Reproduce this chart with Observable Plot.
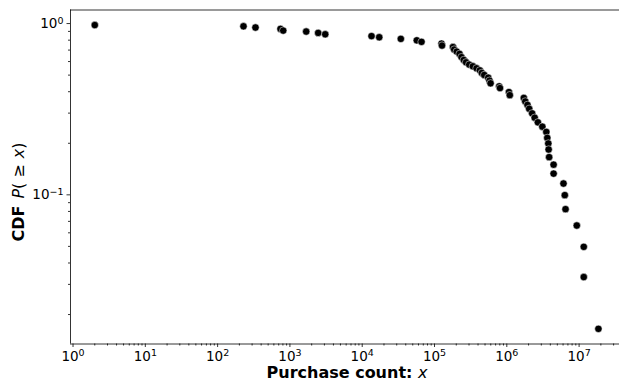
<!DOCTYPE html>
<html><head><meta charset="utf-8">
<script src="https://cdn.jsdelivr.net/npm/d3@7"></script>
<script src="https://cdn.jsdelivr.net/npm/@observablehq/plot@0.6"></script>
<style>body{margin:0;background:#fff} svg{display:block}</style>
</head><body><div id="chart"></div>
<script>
const purchaseCount = [2, 228, 334, 741, 808, 1680, 2460, 3080, 13450, 17200,
  34200, 56900, 66100, 125000, 127000, 180000, 187000, 203000, 222000, 236000,
  254000, 273000, 302000, 339000, 381000, 424000, 451000, 487000, 553000, 577000,
  596000, 785000, 805000, 1070000, 1100000, 1720000, 1800000, 1930000, 2040000, 2240000,
  2430000, 2690000, 3100000, 3520000, 3630000, 3750000, 3790000, 3850000, 4440000, 4440000,
  6080000, 6340000, 6490000, 9290000, 11600000, 11600000, 18500000];
const cdf = [0.980, 0.964, 0.948, 0.931, 0.910, 0.898, 0.882, 0.866, 0.845, 0.832,
  0.814, 0.798, 0.782, 0.764, 0.744, 0.729, 0.705, 0.686, 0.665, 0.637,
  0.613, 0.594, 0.576, 0.563, 0.548, 0.533, 0.515, 0.501, 0.483, 0.464,
  0.448, 0.430, 0.420, 0.398, 0.382, 0.368, 0.351, 0.335, 0.318, 0.299,
  0.282, 0.265, 0.250, 0.233, 0.215, 0.1995, 0.184, 0.166, 0.150, 0.133,
  0.1164, 0.0996, 0.0825, 0.0662, 0.0497, 0.0331, 0.0165];

const xTickValues = [1, 10, 100, 1000, 1e4, 1e5, 1e6, 1e7];
const xTickExponents = ["0", "1", "2", "3", "4", "5", "6", "7"];
const yTickValues = [0.1, 1];
const yTickExponents = ["\u22121", "0"];
const tickBase = "10";
const xLabelText = "Purchase count: ";
const xLabelMath = "x";

const xDomain = [0.923, 3.62e7];
const yDomain = [0.01346, 1.2];

const data = purchaseCount.map((x, i) => ({x, y: cdf[i]}));

const xMinor = [];
for (let k = 0; k <= 7; k++) for (let m = 2; m <= 9; m++) {
  const v = m * Math.pow(10, k);
  if (v > xDomain[0] && v < xDomain[1]) xMinor.push(v);
}
const yMinor = [];
for (let k = -2; k <= -1; k++) for (let m = 2; m <= 9; m++) {
  const v = m * Math.pow(10, k);
  if (v > yDomain[0] && v < yDomain[1]) yMinor.push(v);
}

const chart = Plot.plot({
  width: 619, height: 382,
  marginLeft: 70, marginRight: 0, marginTop: 9.5, marginBottom: 38.5,
  x: {type: "log", domain: xDomain},
  y: {type: "log", domain: yDomain},
  style: {fontFamily: "DejaVu Sans", fontSize: "13.5px", color: "#000", background: "#fff"},
  marks: [
    Plot.axisX(xMinor, {tickSize: 2, text: null, strokeWidth: 0.8, label: null}),
    Plot.axisX(xTickValues, {tickSize: 3.5, tickPadding: 3.5, strokeWidth: 0.8, label: null,
      fontSize: 13.5, tickFormat: d => tickBase + "^" + xTickExponents[xTickValues.indexOf(d)]}),
    Plot.axisY(yMinor, {tickSize: 2, text: null, strokeWidth: 0.8, label: null}),
    Plot.axisY(yTickValues, {tickSize: 3.5, tickPadding: 3.5, strokeWidth: 0.8, label: null,
      fontSize: 13.5, tickFormat: d => tickBase + "^" + yTickExponents[yTickValues.indexOf(d)]}),
    Plot.ruleX([xDomain[0]], {stroke: "#000", strokeWidth: 0.8}),
    Plot.ruleY([yDomain[0], yDomain[1]], {stroke: "#000", strokeWidth: 0.8}),
    Plot.dot(data, {x: "x", y: "y", r: 3.7, fill: "#000", stroke: "#fff", strokeWidth: 0.5})
  ]
});

const svg = d3.select(chart);
// turn "10^k" tick labels into base + raised exponent
svg.selectAll("text").each(function() {
  const t = this.textContent;
  if (!t || t.indexOf("^") < 0) return;
  const [base, exp] = t.split("^");
  const el = d3.select(this);
  el.text(null);
  el.append("tspan").text(base);
  el.append("tspan").attr("font-size", 9.5).attr("dy", "-0.45em").text(exp);
});

const xl = svg.append("text")
  .attr("x", 347).attr("y", 377.5)
  .attr("text-anchor", "middle")
  .attr("font-family", "DejaVu Sans").attr("font-size", 16).attr("fill", "#000");
xl.append("tspan").attr("font-weight", "bold").text(xLabelText);
xl.append("tspan").attr("font-style", "italic").text(xLabelMath);

const yl = svg.append("text")
  .attr("transform", "translate(24,192) rotate(-90)")
  .attr("text-anchor", "middle")
  .attr("font-family", "DejaVu Sans").attr("font-size", 16).attr("fill", "#000");
yl.append("tspan").attr("font-weight", "bold").text("CDF");
yl.append("tspan").attr("dx", 7).attr("font-style", "italic").text("P");
yl.append("tspan").text("(");
yl.append("tspan").attr("dx", 5).text("\u2265");
yl.append("tspan").attr("dx", 6).attr("font-style", "italic").text("x");
yl.append("tspan").text(")");

document.getElementById("chart").appendChild(chart);
</script>
</body></html>
